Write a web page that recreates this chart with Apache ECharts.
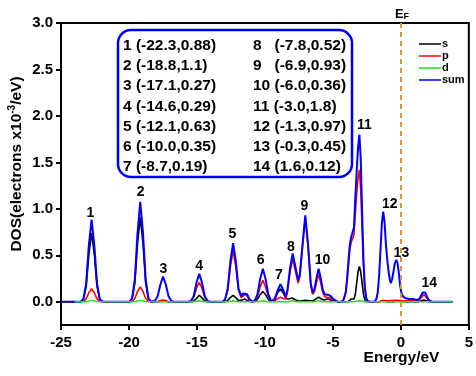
<!DOCTYPE html>
<html><head><meta charset="utf-8">
<script src="https://cdn.jsdelivr.net/npm/echarts@6/dist/echarts.min.js"></script>
<style>html,body{margin:0;padding:0;background:#fff}#c{width:476px;height:376px}</style>
</head><body><div id="c"></div>
<script>
// ---- data ----
const sDOS = [[-25,0],[-23.55,0],[-23.35,0.026],[-23.15,0.163],[-22.95,0.51],[-22.75,0.74],[-22.55,0.51],[-22.35,0.163],[-22.15,0.026],[-21.95,0],
[-19.97,0],[-19.77,0.032],[-19.57,0.20],[-19.37,0.628],[-19.17,0.91],[-18.97,0.628],[-18.77,0.20],[-18.57,0.032],[-18.37,0],
[-17.9,0],[-17.49,0.01],[-17.1,0],
[-15.4,0],[-15.2,0.012],[-15.0,0.04],[-14.83,0.07],[-14.65,0.045],[-14.45,0.012],[-14.25,0],
[-12.95,0],[-12.75,0.012],[-12.55,0.045],[-12.34,0.07],[-12.15,0.045],[-11.95,0.015],[-11.75,0.015],[-11.5,0.03],[-11.25,0.012],[-11.0,0],
[-10.75,0.003],[-10.55,0.025],[-10.35,0.076],[-10.15,0.11],[-9.95,0.076],[-9.75,0.025],[-9.55,0.003],
[-9.46,0.005],[-9.26,0.03],[-9.06,0.097],[-8.86,0.14],[-8.66,0.097],[-8.46,0.035],[-8.26,0.03],[-8.0,0.04],[-7.8,0.025],[-7.55,0.008],[-7.3,0.01],[-7.03,0.015],[-6.7,0.01],[-6.45,0.01],[-6.25,0.03],[-6.05,0.05],[-5.85,0.03],[-5.65,0.02],[-5.4,0.03],[-5.15,0.02],[-4.9,0.005],[-4.6,0],
[-3.9,0],[-3.65,0.03],[-3.45,0.03],[-3.35,0.08],[-3.25,0.2],[-3.15,0.32],[-3.05,0.38],[-2.95,0.32],[-2.85,0.2],[-2.75,0.08],[-2.65,0.02],[-2.5,0],
[-1.6,0],[-1.3,0.01],[-1.0,0],[-0.5,0],[-0.33,0.01],[0.0,0],[1.3,0],[1.7,0.02],[2.1,0],[3.8,0]];

const pDOS = [[-25,0],[-23.55,0],[-23.35,0.005],[-23.15,0.031],[-22.95,0.097],[-22.75,0.14],[-22.55,0.097],[-22.35,0.031],[-22.15,0.005],[-21.95,0],
[-19.97,0],[-19.77,0.006],[-19.57,0.035],[-19.37,0.11],[-19.17,0.16],[-18.97,0.11],[-18.77,0.035],[-18.57,0.006],[-18.37,0],
[-17.9,0],[-17.69,0.013],[-17.49,0.02],[-17.29,0.013],[-17.1,0],
[-15.63,0],[-15.43,0.007],[-15.23,0.046],[-15.03,0.145],[-14.83,0.21],[-14.63,0.145],[-14.43,0.046],[-14.23,0.007],[-14.03,0],
[-13.14,0],[-12.94,0.019],[-12.74,0.12],[-12.54,0.376],[-12.34,0.545],[-12.14,0.376],[-11.94,0.12],[-11.74,0.045],[-11.6,0.065],[-11.47,0.08],[-11.3,0.06],[-11.15,0.02],[-10.95,0],
[-10.75,0.008],[-10.55,0.05],[-10.35,0.159],[-10.15,0.23],[-9.95,0.159],[-9.75,0.05],[-9.55,0.008],
[-9.35,0.005],[-9.1,0.03],[-8.86,0.05],[-8.65,0.035],[-8.46,0.03],
[-8.36,0.09],[-8.16,0.31],[-7.96,0.46],[-7.76,0.33],[-7.56,0.20],[-7.43,0.27],[-7.23,0.60],[-7.03,0.90],[-6.83,0.60],[-6.63,0.18],[-6.49,0.08],[-6.35,0.11],[-6.2,0.21],[-6.05,0.29],[-5.9,0.21],[-5.75,0.10],[-5.6,0.055],[-5.4,0.045],[-5.2,0.04],[-5.0,0.025],[-4.8,0.008],[-4.6,0],
[-4.4,0],[-4.25,0.01],[-4.1,0.07],[-3.95,0.24],[-3.85,0.41],[-3.75,0.57],[-3.65,0.64],[-3.55,0.66],[-3.45,0.72],[-3.35,0.95],[-3.25,1.16],[-3.15,1.32],[-3.05,1.42],[-2.95,1.20],[-2.85,0.77],[-2.75,0.37],[-2.65,0.14],[-2.55,0.04],[-2.45,0.01],[-2.3,0],
[-1.6,0],[-1.3,0.015],[-1.0,0.01],[-0.33,0.015],[0.2,0.01],[1.3,0.01],[1.5,0.04],[1.7,0.08],[1.9,0.04],[2.1,0.005],[2.4,0],[3.8,0]];

const dDOS = [[-24,0],[-23.2,0],[-22.75,0.015],[-22.3,0],[-19.6,0],[-19.17,0.015],[-18.7,0],[-15.2,0],[-14.83,0.012],[-14.4,0],
[-12.7,0],[-12.34,0.012],[-12.0,0],[-10.5,0],[-10.15,0.012],[-9.8,0],[-8.3,0],[-7.96,0.01],[-7.6,0],[-6.4,0],[-6.05,0.01],[-5.7,0],
[-3.5,0],[-3.05,0.01],[-2.6,0],[3.8,0]];

const sumDOS = [[-25,0],[-23.55,0],[-23.35,0.031],[-23.15,0.195],[-22.95,0.61],[-22.75,0.885],[-22.55,0.61],[-22.35,0.195],[-22.15,0.031],[-21.95,0],
[-19.97,0],[-19.77,0.038],[-19.57,0.237],[-19.37,0.742],[-19.17,1.076],[-18.97,0.742],[-18.77,0.237],[-18.57,0.038],[-18.37,0],
[-18.29,0],[-18.09,0.01],[-17.89,0.06],[-17.69,0.186],[-17.49,0.27],[-17.29,0.186],[-17.09,0.06],[-16.89,0.01],[-16.69,0],
[-15.63,0],[-15.43,0.01],[-15.23,0.066],[-15.03,0.207],[-14.83,0.30],[-14.63,0.207],[-14.43,0.066],[-14.23,0.01],[-14.03,0],
[-13.14,0],[-12.94,0.022],[-12.74,0.139],[-12.54,0.435],[-12.34,0.63],[-12.14,0.435],[-11.94,0.139],[-11.74,0.06],[-11.6,0.09],[-11.47,0.11],[-11.3,0.08],[-11.15,0.03],[-10.95,0.002],
[-10.75,0.012],[-10.55,0.078],[-10.35,0.245],[-10.15,0.355],[-9.95,0.245],[-9.75,0.078],[-9.55,0.012],
[-9.4,0.01],[-9.26,0.04],[-9.06,0.125],[-8.86,0.19],[-8.66,0.13],[-8.5,0.06],[-8.36,0.11],[-8.16,0.35],[-7.96,0.52],[-7.76,0.38],[-7.56,0.23],[-7.43,0.30],[-7.23,0.62],[-7.03,0.93],[-6.83,0.62],[-6.63,0.20],[-6.49,0.10],[-6.35,0.14],[-6.2,0.26],[-6.05,0.355],[-5.9,0.26],[-5.75,0.13],[-5.6,0.08],[-5.4,0.075],[-5.2,0.065],[-5.0,0.035],[-4.8,0.01],[-4.6,0],
[-4.4,0],[-4.25,0.01],[-4.15,0.03],[-4.05,0.10],[-3.95,0.25],[-3.85,0.45],[-3.75,0.62],[-3.65,0.70],[-3.55,0.72],[-3.45,0.80],[-3.35,1.12],[-3.25,1.40],[-3.15,1.66],[-3.05,1.80],[-2.95,1.53],[-2.85,0.97],[-2.75,0.45],[-2.65,0.16],[-2.55,0.04],[-2.45,0.01],[-2.3,0],
[-1.95,0],[-1.8,0.03],[-1.7,0.10],[-1.6,0.28],[-1.5,0.55],[-1.4,0.84],[-1.3,0.97],[-1.2,0.86],[-1.1,0.62],[-1.0,0.45],[-0.9,0.32],[-0.8,0.23],[-0.74,0.20],[-0.65,0.24],[-0.55,0.32],[-0.45,0.41],[-0.33,0.45],[-0.25,0.42],[-0.15,0.31],[-0.05,0.17],[0.05,0.09],[0.15,0.06],[0.3,0.04],[0.6,0.03],[0.9,0.03],[1.2,0.02],[1.35,0.03],[1.5,0.07],[1.6,0.10],[1.7,0.11],[1.8,0.10],[1.9,0.06],[2.05,0.02],[2.3,0],[3.8,0]];

// peak table (annotation box)
const peakNo  = [1,2,3,4,5,6,7,8,9,10,11,12,13,14];
const peakE   = [-22.3,-18.8,-17.1,-14.6,-12.1,-10.0,-8.7,-7.8,-6.9,-6.0,-3.0,-1.3,-0.3,1.6];
const peakDOS = [0.88,1.1,0.27,0.29,0.63,0.35,0.19,0.52,0.93,0.36,1.8,0.97,0.45,0.12];
// where each peak number is written on the plot
const labelE = [-22.83,-19.15,-17.47,-14.83,-12.40,-10.32,-8.98,-8.08,-7.10,-5.76,-2.69,-0.81,0.04,2.09];
const labelV = [0.957,1.184,0.354,0.379,0.733,0.444,0.282,0.588,1.029,0.452,1.896,1.051,0.528,0.198];

const yTicks = [0,0.5,1.0,1.5,2.0,2.5,3.0];
const fermiE = 0;

const FONT = "'Liberation Sans', Arial, sans-serif";

const boxTexts = [];
peakNo.forEach((n,i)=>{
  const col = i < 7 ? 0 : 1;
  const row = i % 7;
  const num = col === 0 ? n + ' ' : (n < 10 ? n + '   ' : n + ' ');
  const txt = num + '(' + peakE[i].toFixed(1) + ',' + peakDOS[i] + ')';
  boxTexts.push({
    type:'text', z:10,
    style:{ text:txt, x: col===0 ? 123 : 253, y: 46 + row*20.1,
      fontSize:15.5, fontWeight:'bold', fontFamily:FONT, fill:'#000', verticalAlign:'middle', align:'left'}
  });
});

const chart = echarts.init(document.getElementById('c'), null, {renderer:'canvas'});
chart.setOption({
  animation:false,
  backgroundColor:'#fff',
  grid:{left:61, right:6, top:23, bottom:51, show:true, borderColor:'#000', borderWidth:2, backgroundColor:'transparent'},
  legend:{
    data:['s','p','d','sum'], orient:'vertical', left:414, top:33,
    icon:'rect', itemWidth:22, itemHeight:1.5, itemGap:0,
    textStyle:{fontSize:11, fontWeight:'bold', fontFamily:FONT, color:'#000', lineHeight:12, padding:[0,0,0,-4]}
  },
  xAxis:{
    type:'value', min:-25, max:5, interval:5,
    axisLine:{show:true, onZero:false, lineStyle:{color:'#000', width:2}},
    axisTick:{show:true, inside:false, length:5, lineStyle:{color:'#000', width:2}},
    axisLabel:{margin:10, fontSize:15, fontWeight:'bold', fontFamily:FONT, color:'#000'},
    splitLine:{show:false}
  },
  yAxis:{
    type:'value', min:-0.25, max:3.0,
    axisLine:{show:true, onZero:false, lineStyle:{color:'#000', width:2}},
    axisTick:{show:true, inside:false, length:5, customValues:yTicks, lineStyle:{color:'#000', width:2}},
    axisLabel:{margin:8, fontSize:15, fontWeight:'bold', fontFamily:FONT, color:'#000', customValues:yTicks,
      formatter:v=>v.toFixed(1)},
    splitLine:{show:false}
  },
  series:[
    {name:'s', type:'line', data:sDOS, symbol:'none', lineStyle:{color:'#000', width:1.6}, itemStyle:{color:'#000'}, z:2},
    {name:'p', type:'line', data:pDOS, symbol:'none', lineStyle:{color:'#ff0000', width:1.6}, itemStyle:{color:'#ff0000'}, z:3},
    {name:'sum', type:'line', data:sumDOS, symbol:'none', lineStyle:{color:'#0000ff', width:2}, itemStyle:{color:'#0000ff'}, z:4,
      markLine:{silent:true, symbol:'none', label:{show:false}, emphasis:{disabled:true},
        lineStyle:{color:'#d9952b', width:2, type:[5,4]}, data:[{xAxis:fermiE}]}},
    {name:'d', type:'line', data:dDOS, symbol:'none', lineStyle:{color:'#22dd22', width:1.5}, itemStyle:{color:'#22dd22'}, z:5},
    {name:'peaks', type:'scatter', symbolSize:0, z:6, itemStyle:{opacity:1, color:'#000'},
      data: labelE.map((e,i)=>[e, labelV[i], peakNo[i]]),
      label:{show:true, position:'inside', formatter:p=>String(p.value[2]), opacity:1,
        fontSize:14, fontWeight:'bold', fontFamily:FONT, color:'#000', textBorderWidth:0}}
  ],
  graphic:[
    {type:'rect', z:9, shape:{x:118, y:30, width:234, height:147, r:13},
      style:{fill:'none', stroke:'#0000ff', lineWidth:2.5}},
    ...boxTexts,
    {type:'text', z:10, x:17, y:164, rotation:Math.PI/2,
      style:{text:'{n|DOS(electrons x10}{s|-3}{n|/eV)}', align:'center', verticalAlign:'middle',
        rich:{ n:{fontSize:15.5, fontWeight:'bold', fontFamily:FONT, fill:'#000', lineHeight:20},
               s:{fontSize:10, fontWeight:'bold', fontFamily:FONT, fill:'#000', verticalAlign:'top', lineHeight:20, padding:[0,0,8,0]} }}},
    {type:'text', z:10,
      style:{text:'Energy/eV', x:401.5, y:358, align:'center', verticalAlign:'middle',
        fontSize:15.5, fontWeight:'bold', fontFamily:FONT, fill:'#000'}},
    {type:'text', z:10,
      style:{text:'{e|E}{f|F}', x:402, y:14, align:'center', verticalAlign:'middle',
        rich:{ e:{fontSize:13, fontWeight:'bold', fontFamily:FONT, fill:'#000', lineHeight:16},
               f:{fontSize:9, fontWeight:'bold', fontFamily:FONT, fill:'#000', lineHeight:16, padding:[6,0,0,0]} }}}
  ]
});
</script></body></html>
